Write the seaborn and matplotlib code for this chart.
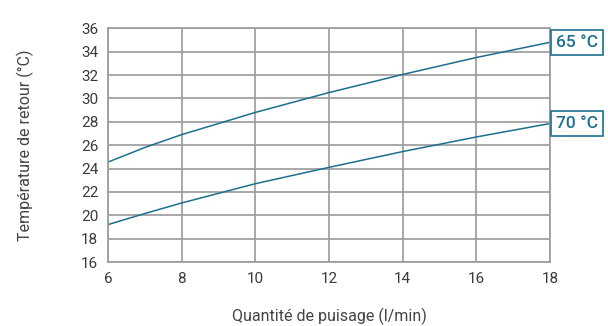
import pandas as pd
import seaborn as sns
import matplotlib.pyplot as plt


## DATA
flow = [6, 7, 8, 10, 12, 14, 16, 18]
temp_65 = [24.55, 25.8, 26.9, 28.8, 30.5, 32.05, 33.5, 34.8]
temp_70 = [19.2, 20.15, 21.05, 22.7, 24.1, 25.45, 26.7, 27.85]
series_names = ['65 °C', '70 °C']

df = pd.concat([
    pd.DataFrame({'flow': flow, 'temp': temp_65, 'serie': series_names[0]}),
    pd.DataFrame({'flow': flow, 'temp': temp_70, 'serie': series_names[1]}),
])


## STYLE
sns.set_style('white')
plt.rcParams['font.family'] = ['Roboto', 'DejaVu Sans']
line_col = '#1d6f8f'
grid_col = '#9a9a9a'
text_col = '#3a3a3a'


## PLOT
fig = plt.figure(figsize=(6.08, 3.26), dpi=100)
ax = fig.add_axes([0.1776, 0.1963, 0.727, 0.7169])

sns.lineplot(data=df, x='flow', y='temp', hue='serie',
             palette=[line_col, line_col], linewidth=1.1,
             legend=False, ax=ax)

ax.set_xlim(6, 18)
ax.set_ylim(16, 36)
ax.set_xticks(range(6, 19, 2))
ax.set_yticks(range(16, 37, 2))
ax.grid(True, color=grid_col, linewidth=1.2)
for s in ax.spines.values():
    s.set_color(grid_col)
    s.set_linewidth(1.2)
ax.tick_params(length=0, labelsize=11, colors=text_col, pad=7)

ax.set_xlabel('Quantité de puisage (l/min)', fontsize=11.5,
              color='#444444', labelpad=16)
ax.set_ylabel('Température de retour (°C)', fontsize=11.5,
              color='#444444', labelpad=34)

# end labels in boxes
for name, vals in zip(series_names, [temp_65, temp_70]):
    ax.annotate(name, xy=(flow[-1], vals[-1]), xytext=(4, 0),
                textcoords='offset points', va='center', ha='left',
                fontsize=12.5, fontweight='medium', color=line_col,
                annotation_clip=False,
                bbox=dict(boxstyle='square,pad=0.28', fc='white',
                          ec=line_col, lw=1.2))

plt.savefig('out.png', dpi=100)
